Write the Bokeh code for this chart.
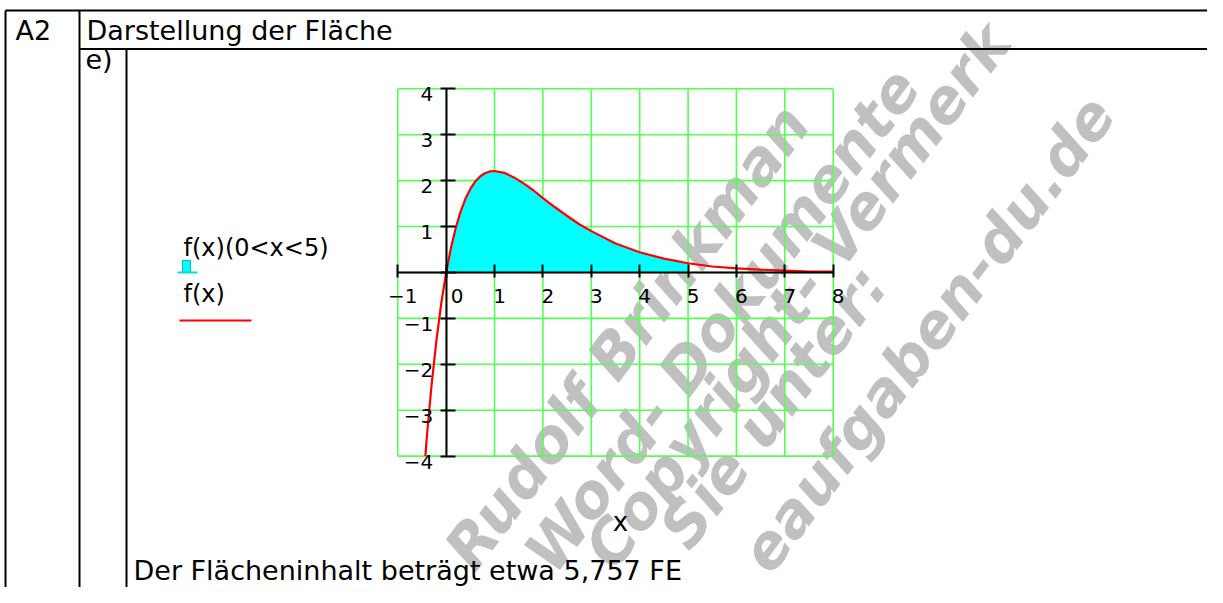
import math
from bokeh.plotting import figure
from bokeh.models import Range1d, FixedTicker, ColumnDataSource
from bokeh.core.properties import value
from bokeh.embed import file_html
from bokeh.resources import INLINE

# ---------------- data ----------------
x_vals = [-0.43, -0.4, -0.3, -0.2, -0.1, 0.0, 0.1, 0.2, 0.3, 0.4, 0.5, 0.6, 0.7, 0.8,
          0.9, 1.0, 1.2, 1.4, 1.6, 1.8, 2.0, 2.25, 2.5, 2.75, 3.0, 3.5, 4.0, 4.5,
          5.0, 5.5, 6.0, 6.5, 7.0, 7.5, 8.0]
f_vals = [-4.0, -3.58, -2.43, -1.47, -0.66, 0.0, 0.54, 0.98, 1.33, 1.61, 1.82, 1.98,
          2.09, 2.16, 2.20, 2.21, 2.17, 2.07, 1.94, 1.79, 1.62, 1.42, 1.23, 1.05,
          0.90, 0.63, 0.44, 0.30, 0.20, 0.13, 0.09, 0.06, 0.04, 0.02, 0.02]
area_from, area_to = 0.0, 5.0

x_ticks = [-1, 0, 1, 2, 3, 4, 5, 6, 7, 8]
y_ticks = [-4, -3, -2, -1, 0, 1, 2, 3, 4]

header_left = "A2"
header_title = "Darstellung der Fläche"
part_label = "e)"
legend_area = "f(x)(0<x<5)"
legend_curve = "f(x)"
x_axis_label = "x"
result_text = "Der Flächeninhalt beträgt etwa 5,757 FE"
watermark_lines = ["Rudolf Brinkman", "Word- Dokumente", "Copyright- Vermerk",
                   "Sie unter:", "eaufgaben-du.de"]

# ---------------- layout (picture pixels) ----------------
W, H = 1207, 587
XL_PX, XR_PX = 397.3, 832.7     # picture x of first / last x tick
YT_PX, YB_PX = 88.3, 455.6      # picture y of top / bottom y tick
K = 0.32                         # renderer baseline correction (fraction of font size)

sx = (XR_PX - XL_PX) / (x_ticks[-1] - x_ticks[0])
sy = (YB_PX - YT_PX) / (y_ticks[-1] - y_ticks[0])
x_start = x_ticks[0] - XL_PX / sx
x_end = x_start + W / sx
y_end = y_ticks[-1] + YT_PX / sy
y_start = y_end - H / sy

FONT = value("DejaVu Sans")


def bl(y, size):
    return y - K * size


p = figure(width=W, height=H, x_range=Range1d(x_start, x_end),
           y_range=Range1d(y_start, y_end), output_backend="svg",
           toolbar_location=None, min_border=0)
p.extra_x_ranges = {"px": Range1d(0, W)}
p.extra_y_ranges = {"px": Range1d(H, 0)}
p.outline_line_color = None
p.background_fill_color = "white"
p.border_fill_color = "white"
p.xgrid.visible = False
p.ygrid.visible = False

# ---------------- watermark ----------------
WM_SIZE = 60
WM_ANG = math.radians(53)
nx, ny = math.sin(WM_ANG), math.cos(WM_ANG)
wm_px = [(473, 572), (553, 575), (613, 571), (688, 551), (769, 575)]
wm_x = [x - nx * K * WM_SIZE for x, _ in wm_px]
wm_y = [y - ny * K * WM_SIZE for _, y in wm_px]
p.text(x=wm_x, y=wm_y, text=watermark_lines, angle=WM_ANG,
       text_font=FONT, text_font_style="bold italic",
       text_font_size=f"{WM_SIZE}px", text_color="#c0c0c0", text_baseline="alphabetic",
       text_align="left", x_range_name="px", y_range_name="px")

# ---------------- grid ----------------
gx0 = [t for t in x_ticks] + [x_ticks[0] for _ in y_ticks]
gx1 = [t for t in x_ticks] + [x_ticks[-1] for _ in y_ticks]
gy0 = [y_ticks[0] for _ in x_ticks] + [t for t in y_ticks]
gy1 = [y_ticks[-1] for _ in x_ticks] + [t for t in y_ticks]
p.segment(x0=gx0, y0=gy0, x1=gx1, y1=gy1, line_color="#55ff55", line_width=1.6)

# ---------------- area 0<x<5 ----------------
ax = [x for x in x_vals if area_from <= x <= area_to]
ay = [f for x, f in zip(x_vals, f_vals) if area_from <= x <= area_to]
p.varea(x=ax, y1=[0] * len(ax), y2=ay, fill_color="#00ffff")

# ---------------- curve ----------------
p.line(x=x_vals, y=f_vals, line_color="#ff0000", line_width=2.2)

# ---------------- axes crossing at the origin ----------------
for ax_obj, ticks, tin, tout in ((p.xaxis[0], x_ticks, 8, 5), (p.yaxis[0], y_ticks, 9, 6)):
    ax_obj.fixed_location = 0
    ax_obj.bounds = (ticks[0], ticks[-1])
    ax_obj.ticker = FixedTicker(ticks=ticks)
    ax_obj.minor_tick_line_color = None
    ax_obj.major_tick_in = tin
    ax_obj.major_tick_out = tout
    ax_obj.axis_line_width = 2
    ax_obj.major_tick_line_width = 2
    ax_obj.axis_line_color = "black"
    ax_obj.major_tick_line_color = "black"
    ax_obj.major_label_text_color = None


def fmt(t):
    return ("\u2212" + str(-t)) if t < 0 else str(t)


TICK_SIZE = 20
xl = ColumnDataSource(dict(x=x_ticks, y=[0] * len(x_ticks),
                           text=[fmt(t) for t in x_ticks],
                           dx=[11 if t == 0 else 5 for t in x_ticks]))
p.text(x="x", y="y", text="text", x_offset="dx", y_offset=30 - K * TICK_SIZE, source=xl,
       text_font=FONT, text_font_size=f"{TICK_SIZE}px", text_color="black",
       text_align="center", text_baseline="alphabetic")
yt = [t for t in y_ticks if t != 0]
yl = ColumnDataSource(dict(x=[0] * len(yt), y=yt, text=[fmt(t) for t in yt]))
p.text(x="x", y="y", text="text", x_offset=-13, y_offset=12 - K * TICK_SIZE, source=yl,
       text_font=FONT, text_font_size=f"{TICK_SIZE}px", text_color="black",
       text_align="right", text_baseline="alphabetic")

# ---------------- table frame ----------------
p.segment(x0=[5, 79, 5, 79, 126], y0=[10, 48.5, 10, 10, 48.5],
          x1=[W, W, 5, 79, 126], y1=[10, 48.5, H, H, H],
          line_color="black", line_width=2, x_range_name="px", y_range_name="px")

TAB_SIZE = 27
p.text(x=[15, 86, 85], y=[bl(39, TAB_SIZE), bl(39, TAB_SIZE), bl(68, TAB_SIZE)],
       text=[header_left, header_title, part_label],
       text_font=FONT, text_font_size=f"{TAB_SIZE}px", text_color="black",
       text_baseline="alphabetic", x_range_name="px", y_range_name="px")
p.text(x=[133], y=[bl(579, TAB_SIZE)], text=[result_text], text_font=FONT,
       text_font_size=f"{TAB_SIZE}px", text_color="black", text_baseline="alphabetic",
       x_range_name="px", y_range_name="px")
p.text(x=[620], y=[bl(530, 26)], text=[x_axis_label], text_font=FONT,
       text_font_size="26px", text_color="black", text_align="center",
       text_baseline="alphabetic", x_range_name="px", y_range_name="px")

# ---------------- legend ----------------
LEG_SIZE = 24
p.text(x=[183, 183], y=[bl(255, LEG_SIZE), bl(301, LEG_SIZE)],
       text=[legend_area, legend_curve], text_font=FONT,
       text_font_size=f"{LEG_SIZE}px", text_color="black", text_baseline="alphabetic",
       x_range_name="px", y_range_name="px")
p.quad(left=[182], right=[190], top=[260], bottom=[272], fill_color="#00ffff",
       line_color="#00c0c0", line_width=1, x_range_name="px", y_range_name="px")
p.segment(x0=[177], y0=[272], x1=[197], y1=[272], line_color="#00e0e0", line_width=2,
          x_range_name="px", y_range_name="px")
p.segment(x0=[179], y0=[320], x1=[251], y1=[320], line_color="#ff0000", line_width=2,
          x_range_name="px", y_range_name="px")

open("out.html", "w").write(file_html(p, INLINE))
